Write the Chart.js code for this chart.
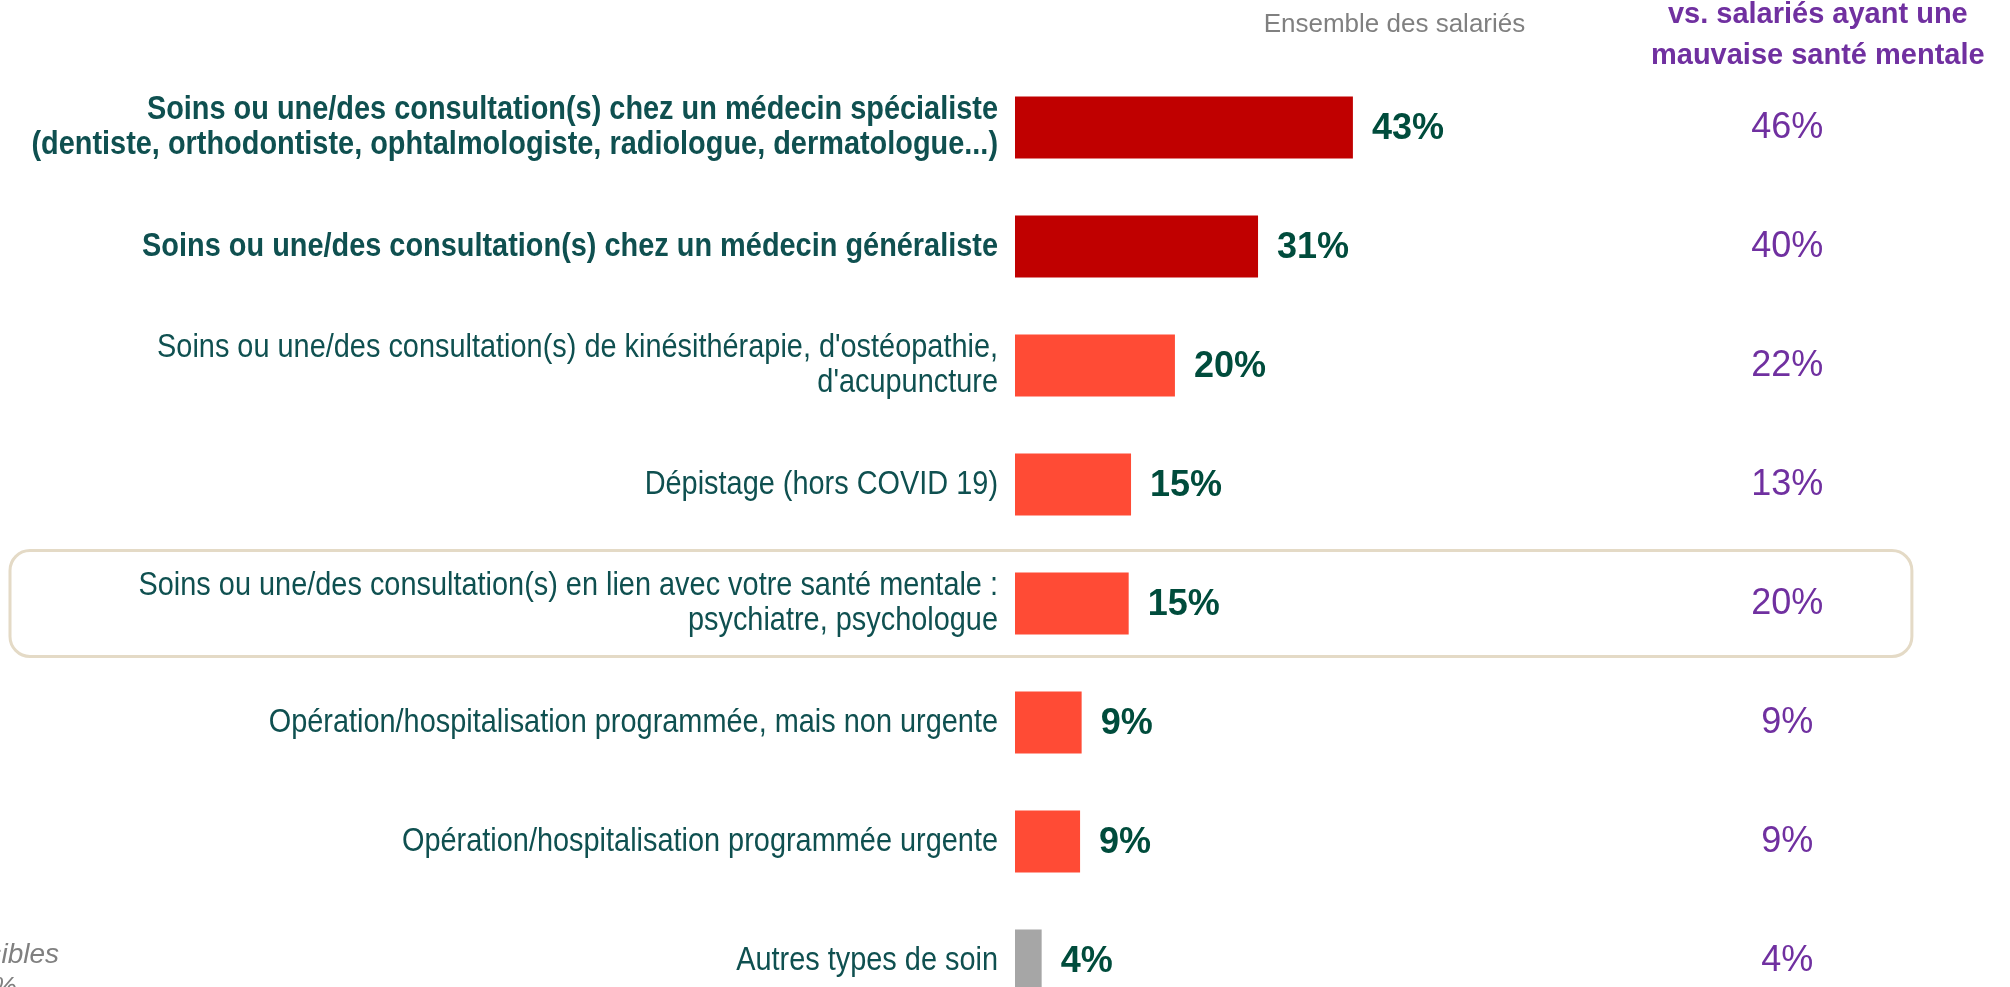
<!DOCTYPE html>
<html>
<head>
<meta charset="utf-8">
<script src="https://cdn.jsdelivr.net/npm/chart.js@4.4.1/dist/chart.umd.min.js"></script>
<style>
  html, body { margin: 0; padding: 0; background: #fff; overflow: hidden; }
  #wrap { width: 2010px; height: 1030px; }
</style>
</head>
<body>
<div id="wrap"><canvas id="chart" width="2010" height="1030"></canvas></div>
<script>
// categories (y axis), top to bottom
var categories = [
  ["Soins ou une/des consultation(s) chez un médecin spécialiste", "(dentiste, orthodontiste, ophtalmologiste, radiologue, dermatologue...)"],
  "Soins ou une/des consultation(s) chez un médecin généraliste",
  ["Soins ou une/des consultation(s) de kinésithérapie, d'ostéopathie,", "d'acupuncture"],
  "Dépistage (hors COVID 19)",
  ["Soins ou une/des consultation(s) en lien avec votre santé mentale :", "psychiatre, psychologue"],
  "Opération/hospitalisation programmée, mais non urgente",
  "Opération/hospitalisation programmée urgente",
  "Autres types de soin"
];

// Ensemble des salariés (bar lengths) and their printed labels
var ensembleValues = [43.1, 31, 20.4, 14.8, 14.5, 8.5, 8.3, 3.4];
var ensembleLabels = ["43%", "31%", "20%", "15%", "15%", "9%", "9%", "4%"];

// vs. salariés ayant une mauvaise santé mentale
var mauvaiseSanteValues = [46, 40, 22, 13, 20, 9, 9, 4];

var headerLeft = "Ensemble des salariés";
var headerRight = ["vs. salariés ayant une", "mauvaise santé mentale"];
var footnote = ["Plusieurs réponses possibles", "Total supérieur à 100%"];

var mainFamily = "'Liberation Sans', Arial, sans-serif";
var barColors = ["#C00000", "#C00000", "#FF4B35", "#FF4B35", "#FF4B35", "#FF4B35", "#FF4B35", "#A6A6A6"];

var extras = {
  id: "extras",
  beforeDatasetsDraw: function(chart) {
    var ctx = chart.ctx;
    var x = chart.scales.x, y = chart.scales.y;
    var pitch = y.getPixelForValue(1) - y.getPixelForValue(0);
    var yc = y.getPixelForValue(4);
    var top = yc - pitch * 0.445, bottom = yc + pitch * 0.445;
    var left = 10, right = x.getPixelForValue(114.4);
    ctx.save();
    ctx.strokeStyle = "#E4DAC6";
    ctx.lineWidth = 3;
    ctx.beginPath();
    ctx.roundRect(left, top, right - left, bottom - top, 20);
    ctx.stroke();
    ctx.restore();
  },
  afterDatasetsDraw: function(chart) {
    var ctx = chart.ctx;
    var x = chart.scales.x, y = chart.scales.y;
    var meta = chart.getDatasetMeta(0);
    ctx.save();
    ctx.textBaseline = "middle";

    // category labels, condensed like the original narrow face
    ctx.fillStyle = "#0F5050";
    ctx.textAlign = "right";
    var lineH = 35;
    categories.forEach(function(cat, i) {
      var lines = Array.isArray(cat) ? cat : [cat];
      var yc = y.getPixelForValue(i);
      ctx.font = (i < 2 ? "bold " : "") + "34px " + mainFamily;
      lines.forEach(function(line, k) {
        var ly = yc + (k - (lines.length - 1) / 2) * lineH;
        ctx.save();
        ctx.translate(chart.chartArea.left - 17, ly);
        ctx.scale(0.85, 1);
        ctx.fillText(line, 0, 0);
        ctx.restore();
      });
    });

    // value labels next to bars
    ctx.font = "bold 36px " + mainFamily;
    ctx.fillStyle = "#004C3C";
    ctx.textAlign = "left";
    meta.data.forEach(function(bar, i) {
      ctx.fillText(ensembleLabels[i], bar.x + 19, bar.y + 2);
    });

    // right column
    ctx.font = "36px " + mainFamily;
    ctx.fillStyle = "#7030A0";
    ctx.textAlign = "center";
    mauvaiseSanteValues.forEach(function(v, i) {
      ctx.fillText(v + "%", x.getPixelForValue(98.5), y.getPixelForValue(i) + 1);
    });

    // headers
    ctx.font = "26px " + mainFamily;
    ctx.fillStyle = "#808080";
    ctx.fillText(headerLeft, x.getPixelForValue(48.4), 25);
    ctx.font = "bold 29px " + mainFamily;
    ctx.fillStyle = "#7030A0";
    ctx.fillText(headerRight[0], x.getPixelForValue(102.4), 15);
    ctx.fillText(headerRight[1], x.getPixelForValue(102.4), 56);

    // footnote, cut by the left edge
    ctx.font = "italic 28px " + mainFamily;
    ctx.fillStyle = "#808080";
    ctx.textAlign = "right";
    ctx.fillText(footnote[0], 59, 955);
    ctx.fillText(footnote[1], 17, 988);
    ctx.restore();
  }
};

var ctx = document.getElementById("chart");
var chart = new Chart(ctx, {
  type: "bar",
  data: {
    labels: categories,
    datasets: [{
      label: headerLeft,
      data: ensembleValues,
      backgroundColor: barColors,
      borderWidth: 0,
      categoryPercentage: 1,
      barPercentage: 0.52
    }]
  },
  options: {
    indexAxis: "y",
    responsive: false,
    animation: false,
    devicePixelRatio: 1,
    layout: { padding: { top: 68, bottom: 10, left: 0, right: 211 } },
    plugins: {
      legend: { display: false },
      tooltip: { enabled: false }
    },
    scales: {
      x: { display: false, min: 0, max: 100 },
      y: {
        grid: { display: false, drawTicks: false },
        border: { display: false },
        ticks: { display: false, autoSkip: false },
        afterFit: function(scale) {
          scale.width = 1015;
          scale.paddingTop = 0;
          scale.paddingBottom = 0;
        }
      }
    }
  },
  plugins: [extras]
});
</script>
</body>
</html>
